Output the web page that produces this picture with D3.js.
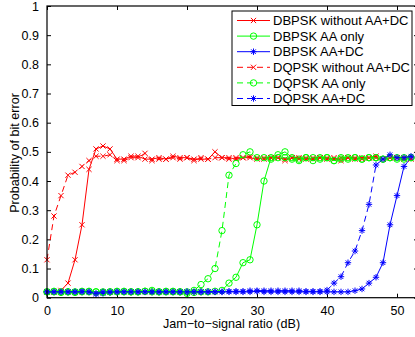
<!DOCTYPE html>
<html><head><meta charset="utf-8">
<script src="https://cdn.jsdelivr.net/npm/d3@7"></script>
<style>body{margin:0;background:#fff}svg{display:block}text{font-family:"Liberation Sans",Arial,Helvetica,sans-serif}</style>
</head><body><svg id="c" width="415" height="337"></svg>
<script>
const jsr = d3.range(0, 53);
const xTicks = [0,10,20,30,40,50];
const yTicks = [0,0.1,0.2,0.3,0.4,0.5,0.6,0.7,0.8,0.9,1];
const legendLabels = ["DBPSK without AA+DC","DBPSK AA only","DBPSK AA+DC","DQPSK without AA+DC","DQPSK AA only","DQPSK AA+DC"];
const dbpskNone = [0.02,0.02,0.025,0.05,0.13,0.25,0.44,0.51,0.52,0.51,0.475,0.475,0.485,0.485,0.475,0.475,0.48,0.475,0.485,0.48,0.48,0.475,0.475,0.475,0.5,0.48,0.48,0.475,0.48,0.48,0.475,0.48,0.48,0.48,0.475,0.48,0.475,0.48,0.475,0.48,0.48,0.475,0.48,0.48,0.475,0.48,0.48,0.48,0.475,0.48,0.48,0.475,0.48];
const dbpskAA = [0.02,0.02,0.018,0.02,0.018,0.02,0.022,0.02,0.018,0.02,0.02,0.022,0.02,0.02,0.022,0.025,0.02,0.02,0.022,0.02,0.02,0.018,0.02,0.02,0.022,0.025,0.05,0.07,0.12,0.13,0.25,0.40,0.48,0.49,0.5,0.48,0.475,0.48,0.47,0.48,0.48,0.47,0.475,0.48,0.48,0.475,0.48,0.48,0.475,0.48,0.48,0.475,0.48];
const dbpskAADC = [0.02,0.02,0.02,0.02,0.02,0.022,0.02,0.012,0.015,0.018,0.02,0.02,0.02,0.02,0.02,0.02,0.02,0.02,0.02,0.02,0.02,0.02,0.02,0.02,0.02,0.02,0.02,0.02,0.02,0.02,0.022,0.02,0.02,0.02,0.02,0.02,0.02,0.02,0.02,0.02,0.02,0.02,0.02,0.02,0.024,0.03,0.05,0.07,0.12,0.25,0.35,0.45,0.48];
const dqpskNone = [0.13,0.28,0.35,0.42,0.43,0.45,0.47,0.485,0.485,0.49,0.47,0.47,0.48,0.48,0.495,0.47,0.475,0.475,0.48,0.475,0.48,0.47,0.48,0.475,0.48,0.48,0.475,0.48,0.48,0.485,0.48,0.475,0.48,0.48,0.47,0.48,0.48,0.475,0.48,0.48,0.475,0.48,0.47,0.48,0.48,0.475,0.48,0.485,0.475,0.48,0.48,0.48,0.475];
const dqpskAA = [0.02,0.022,0.02,0.02,0.02,0.022,0.02,0.02,0.02,0.02,0.022,0.02,0.02,0.02,0.022,0.02,0.02,0.022,0.02,0.02,0.015,0.025,0.045,0.065,0.10,0.23,0.42,0.46,0.49,0.5,0.48,0.48,0.475,0.48,0.48,0.475,0.47,0.48,0.48,0.475,0.48,0.47,0.48,0.475,0.48,0.475,0.48,0.48,0.475,0.48,0.475,0.48,0.48];
const dqpskAADC = [0.02,0.02,0.02,0.02,0.02,0.02,0.02,0.015,0.02,0.02,0.02,0.02,0.02,0.02,0.02,0.02,0.02,0.02,0.02,0.02,0.02,0.02,0.02,0.02,0.02,0.02,0.022,0.022,0.022,0.024,0.024,0.024,0.024,0.024,0.024,0.024,0.024,0.022,0.022,0.022,0.026,0.05,0.072,0.12,0.16,0.23,0.32,0.455,0.475,0.49,0.48,0.48,0.485];

const colors = ["#ff0000","#00ff00","#0000ff","#ff0000","#00ff00","#0000ff"];
const markers = ["x","o","*","x","o","*"];
const dashed = [false,false,false,true,true,true];
const seriesData = [dbpskNone,dbpskAA,dbpskAADC,dqpskNone,dqpskAA,dqpskAADC];

const svg = d3.select("#c");
const L = 47, R = 418, T = 6, B = 297.7;
const x = d3.scaleLinear().domain([0,53]).range([L,R]);
const y = d3.scaleLinear().domain([0,1]).range([B,T]);

function drawMarker(g, type, cx, cy, col){
  if(type==="x"){
    const s=2.6;
    g.append("path").attr("d",`M${cx-s},${cy-s}L${cx+s},${cy+s}M${cx-s},${cy+s}L${cx+s},${cy-s}`).attr("stroke",col).attr("stroke-width",1).attr("fill","none");
  } else if(type==="o"){
    g.append("circle").attr("cx",cx).attr("cy",cy).attr("r",3.2).attr("stroke",col).attr("stroke-width",1).attr("fill","none");
  } else {
    const s=3.2, d=s*0.72;
    g.append("path").attr("d",`M${cx-s},${cy}L${cx+s},${cy}M${cx},${cy-s}L${cx},${cy+s}M${cx-d},${cy-d}L${cx+d},${cy+d}M${cx-d},${cy+d}L${cx+d},${cy-d}`).attr("stroke",col).attr("stroke-width",1).attr("fill","none");
  }
}

const ax = svg.append("g");
const xb = d3.axisBottom(x).tickValues(xTicks).tickSizeInner(-4).tickSizeOuter(0).tickPadding(8).tickFormat(d3.format("d"));
const yl = d3.axisLeft(y).tickValues(yTicks).tickSizeInner(-4).tickSizeOuter(0).tickPadding(8).tickFormat(d=> d===0?"0":d===1?"1":d3.format(".1f")(d));
const gx = ax.append("g").attr("transform",`translate(0,${B})`).call(xb);
const gy = ax.append("g").attr("transform",`translate(${L},0)`).call(yl);
ax.append("g").attr("transform",`translate(0,${T})`).call(d3.axisTop(x).tickValues(xTicks).tickSizeInner(-4).tickSizeOuter(0).tickFormat(""));
ax.append("g").attr("transform",`translate(${R},0)`).call(d3.axisRight(y).tickValues(yTicks).tickSizeInner(-4).tickSizeOuter(0).tickFormat(""));
ax.selectAll(".domain").remove();
ax.selectAll("line").attr("stroke","#000").attr("stroke-width",1);
ax.selectAll("text").attr("font-size","12.5px").attr("fill","#000").attr("font-family",'"Liberation Sans",Arial,sans-serif');
gx.selectAll("text").attr("dy","0.71em");

const plot = svg.append("g");
seriesData.forEach((vals,i)=>{
  const line = d3.line().x((d,j)=>x(jsr[j])).y(d=>y(d));
  plot.append("path").datum(vals).attr("d",line).attr("fill","none").attr("stroke",colors[i]).attr("stroke-width",1)
    .attr("stroke-dasharray",dashed[i]?"6,4":null);
  const mg = plot.append("g");
  vals.forEach((v,j)=>drawMarker(mg,markers[i],x(jsr[j]),y(v),colors[i]));
});

svg.append("rect").attr("x",L).attr("y",T).attr("width",R-L).attr("height",B-T).attr("fill","none").attr("stroke","#000").attr("stroke-width",1.2);

const lg = svg.append("g");
lg.append("rect").attr("x",232).attr("y",11).attr("width",180).attr("height",94.5).attr("fill","#fff").attr("stroke","#000").attr("stroke-width",1);
legendLabels.forEach((lab,i)=>{
  const yy = 20.5 + i*15.6;
  lg.append("line").attr("x1",237).attr("x2",270).attr("y1",yy).attr("y2",yy).attr("stroke",colors[i]).attr("stroke-width",1).attr("stroke-dasharray",dashed[i]?"6,4":null);
  drawMarker(lg,markers[i],253.5,yy,colors[i]);
  lg.append("text").attr("x",273).attr("y",yy).attr("dy","0.36em").attr("font-size","13px").text(lab);
});

svg.append("text").attr("x",231.5).attr("y",323).attr("text-anchor","middle").attr("dy","0.36em").attr("font-size","12.6px").text("Jam\u2212to\u2212signal ratio (dB)");
svg.append("text").attr("transform","translate(14,153) rotate(-90)").attr("text-anchor","middle").attr("dy","0.36em").attr("font-size","12.6px").text("Probability of bit error");
</script></body></html>
